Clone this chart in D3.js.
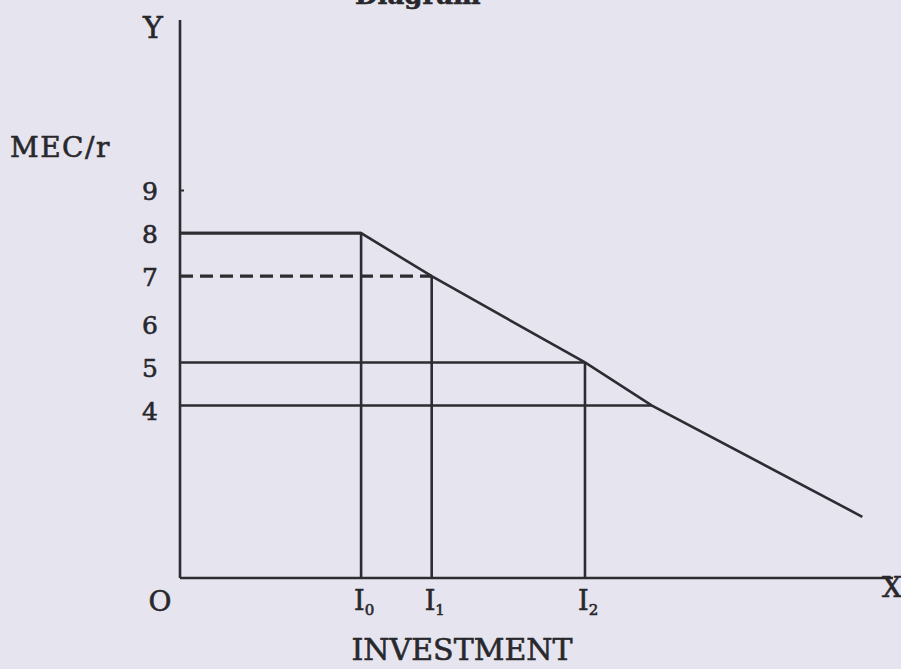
<!DOCTYPE html>
<meta charset="utf-8">
<style>
body { margin: 0; background: #e6e4ef; }
svg { display: block; }
text { font-family: "DejaVu Serif", serif; fill: #28282c; stroke: #28282c; stroke-width: 0.6px; }
.line { fill: none; stroke: #2c2c31; stroke-width: 2.6; }
</style>
<body>
<script src="https://d3js.org/d3.v7.min.js"></script>
<script>

// values
var yTicks = [4, 5, 6, 7, 8, 9];
var investNames = ["0", "1", "2"];          // subscripts of I
var investValues = [2.54, 3.53, 5.68];      // I0, I1, I2
var mecX = [0, 2.54, 3.53, 5.68, 6.62, 9.57];
var mecY = [8, 8, 7, 5, 4, 1.42];
var rateLevels = [8, 7, 5, 4];
var rateEnds = [2.54, 3.53, 5.68, 6.62];
var dropLevels = [8, 7, 5];                 // verticals at I0, I1, I2
var dashedLevel = 7;

var width = 901, height = 669;

var x = d3.scaleLinear().domain([0, 10]).range([180, 893]);
var y = d3.scaleLinear().domain([0, 9]).range([578, 190]);

var svg = d3.select("body").append("svg")
    .attr("width", width)
    .attr("height", height);

// caption cut off by the top edge, as in the scan
svg.append("text")
    .attr("x", 355)
    .attr("y", 4)
    .style("font-size", "26px")
    .style("font-weight", "bold")
    .text("Diagram");

// axes
svg.append("line").attr("class", "line")
    .attr("x1", x(0)).attr("y1", y(0))
    .attr("x2", x(0)).attr("y2", 20);
svg.append("line").attr("class", "line")
    .attr("x1", x(0)).attr("y1", y(0))
    .attr("x2", x(10)).attr("y2", y(0));

var yAxis = d3.axisLeft(y)
    .tickValues(yTicks)
    .tickSizeInner(-4)
    .tickSizeOuter(0)
    .tickPadding(22)
    .tickFormat(d3.format("d"));

var ya = svg.append("g")
    .attr("transform", "translate(" + x(0) + ",0)")
    .call(yAxis);
ya.select(".domain").remove();
ya.selectAll("line")
    .attr("stroke", "#2c2c31")
    .attr("stroke-width", 2)
    .attr("opacity", function(d) { return d === 9 ? 1 : 0; });
ya.selectAll("text")
    .attr("dy", function(d) { return d <= 6 ? "0.55em" : "0.38em"; })
    .style("font-size", "25px")
    .style("font-family", "DejaVu Serif, serif")
    .attr("fill", "#28282c");

// rate lines
svg.selectAll(".rate")
    .data(rateLevels)
  .enter().append("line")
    .attr("class", "line rate")
    .attr("x1", x(0))
    .attr("x2", function(d, i) { return x(rateEnds[i]); })
    .attr("y1", function(d) { return y(d); })
    .attr("y2", function(d) { return y(d); })
    .style("stroke-width", function(d) { return d === dashedLevel ? 3.2 : null; })
    .style("stroke-dasharray", function(d) { return d === dashedLevel ? "13,7" : null; });

// investment drop lines
svg.selectAll(".drop")
    .data(investValues)
  .enter().append("line")
    .attr("class", "line drop")
    .attr("x1", function(d) { return x(d); })
    .attr("x2", function(d) { return x(d); })
    .attr("y1", y(0))
    .attr("y2", function(d, i) { return y(dropLevels[i]); });

// MEC curve
var mecLine = d3.line()
    .x(function(d) { return x(d[0]); })
    .y(function(d) { return y(d[1]); });

svg.append("path")
    .datum(d3.zip(mecX, mecY))
    .attr("class", "line")
    .attr("d", mecLine);

// labels
svg.append("text").attr("x", 153).attr("y", 38)
    .attr("text-anchor", "middle").style("font-size", "30px").text("Y");
svg.append("text").attr("x", 10).attr("y", 157)
    .style("font-size", "28px").style("letter-spacing", "1.5px").text("MEC/r");
svg.append("text").attr("x", 160).attr("y", 611)
    .attr("text-anchor", "middle").style("font-size", "28px").text("O");
svg.append("text").attr("x", 882).attr("y", 597)
    .style("font-size", "28px").text("X");

var il = svg.selectAll(".ilab")
    .data(investValues)
  .enter().append("text")
    .attr("class", "ilab")
    .attr("x", function(d) { return x(d) - 7; })
    .attr("y", 610)
    .style("font-size", "27px");
il.append("tspan").text("I");
il.append("tspan")
    .attr("dy", 5)
    .style("font-size", "15px")
    .text(function(d, i) { return investNames[i]; });

svg.append("text").attr("x", 462).attr("y", 660)
    .attr("text-anchor", "middle").style("font-size", "30px").text("INVESTMENT");

</script>
